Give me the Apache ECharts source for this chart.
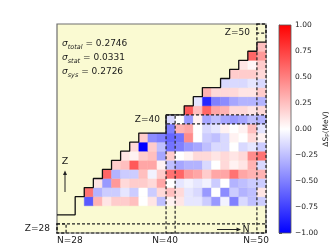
<!DOCTYPE html>
<html><head><meta charset="utf-8">
<script src="https://cdn.jsdelivr.net/npm/echarts@6/dist/echarts.min.js"></script>
<style>html,body{margin:0;padding:0;background:#fff}#c{width:332px;height:249px}</style>
</head><body><div id="c"></div>
<script>
// Neutron numbers of the data columns (index 0 = N=31)
const nValues = [31,32,33,34,35,36,37,38,39,40,41,42,43,44,45,46,47,48,49,50];
// Delta S_p (MeV) per proton number Z, one value per N in nValues (null = no data)
const z31 = [-0.65,0.3,0.1,0.2,0.2,0.25,0.0,0.1,-0.25,0.05,0.1,-0.1,-0.1,-0.2,-0.4,-0.05,-0.5,-0.15,-0.25,-0.2];
const z32 = [0.55,-0.3,-0.2,-0.2,-0.1,-0.2,0.0,-0.2,0.15,0.25,0.15,-0.1,-0.15,-0.4,0.0,-0.45,-0.2,-0.3,-0.25,0.1];
const z33 = [null,0.1,-0.4,0.4,0.15,0.2,0.2,0.15,0.35,0.0,-0.1,-0.05,-0.1,-0.05,-0.2,0.0,-0.3,-0.25,-0.2,-0.2];
const z34 = [null,null,0.6,-0.3,-0.2,-0.2,0.25,-0.05,0.2,0.55,0.6,0.4,0.35,0.2,0.35,0.35,0.55,0.35,0.3,0.3];
const z35 = [null,null,null,0.2,0.25,0.65,0.35,0.35,0.05,-0.25,-0.35,-0.3,-0.3,-0.15,0.0,0.15,0.05,0.1,0.3,-0.15];
const z36 = [null,null,null,null,0.1,0.05,0.2,0.25,-0.35,0.2,0.0,0.05,0.15,0.15,0.1,0.15,0.1,0.15,0.45,0.55];
const z37 = [null,null,null,null,null,0.15,-1.0,0.2,-0.25,-0.55,-0.5,-0.4,-0.35,-0.25,-0.15,-0.15,0.0,-0.15,-0.1,-0.2];
const z38 = [null,null,null,null,null,null,0.2,-0.45,-0.5,-0.6,-0.55,0.45,0.0,-0.2,-0.25,-0.15,0.05,0.0,0.15,0.05];
const z39 = [null,null,null,null,null,null,null,null,null,-0.5,0.3,0.35,0.0,-0.15,-0.1,0.05,0.0,0.05,0.25,-0.1];
const z40 = [null,null,null,null,null,null,null,null,null,-0.15,0.0,-0.4,0.05,-0.35,-0.25,-0.35,-0.4,-0.35,-0.25,-0.3];
const z41 = [null,null,null,null,null,null,null,null,null,null,null,0.65,0.25,0.6,0.35,0.3,0.15,0.15,0.1,0.15];
const z42 = [null,null,null,null,null,null,null,null,null,null,null,null,-0.1,-0.85,-0.5,-0.45,-0.35,-0.3,-0.3,-0.3];
const z43 = [null,null,null,null,null,null,null,null,null,null,null,null,null,0.3,0.15,0.15,0.15,0.1,0.1,0.2];
const z44 = [null,null,null,null,null,null,null,null,null,null,null,null,null,null,null,-0.15,-0.15,-0.15,-0.1,-0.15];
const z45 = [null,null,null,null,null,null,null,null,null,null,null,null,null,null,null,null,0.2,0.2,0.2,0.15];
const z46 = [null,null,null,null,null,null,null,null,null,null,null,null,null,null,null,null,null,0.1,0.03,0.2];
const z47 = [null,null,null,null,null,null,null,null,null,null,null,null,null,null,null,null,null,null,0.6,0.4];
const z48 = [null,null,null,null,null,null,null,null,null,null,null,null,null,null,null,null,null,null,null,0.25];
const zRowValues = [31,32,33,34,35,36,37,38,39,40,41,42,43,44,45,46,47,48];
const zRows = [z31,z32,z33,z34,z35,z36,z37,z38,z39,z40,z41,z42,z43,z44,z45,z46,z47,z48];

// Boundary staircase: highest Z for each N = 28..50
const boundaryN = [28,29,30,31,32,33,34,35,36,37,38,39,40,41,42,43,44,45,46,47,48,49,50];
const boundaryTopZ = [29,29,31,32,33,34,35,36,37,38,38,38,40,40,41,42,43,43,44,45,46,47,48];

// Magic-number dashed boxes: [Nfrom, Nto, Zfrom, Zto]
const magicBoxes = [[28,50,28,28],[40,50,40,40],[50,50,50,50],[28,28,28,28],[40,40,28,40],[50,50,28,50]];

// Colorbar ticks
const cbarMin = -1, cbarMax = 1, cbarStep = 0.25;

const cells = [];
zRows.forEach((row, i) => row.forEach((v, j) => { if (v !== null) cells.push([nValues[j], zRowValues[i], v]); }));
const stair = [];
boundaryN.forEach((n, i) => { stair.push([n - 0.5, boundaryTopZ[i] + 0.5]); stair.push([n + 0.5, boundaryTopZ[i] + 0.5]); });

const FONT = 'DejaVu Sans';
const chart = echarts.init(document.getElementById('c'), null, {renderer: 'canvas'});
const txt = (t, x, y, align, size) => ({type: 'text', z: 20, style: {text: t, x: x, y: y, align: align || 'left', verticalAlign: 'middle', fill: '#1a1a1a', fontSize: size || 9, fontFamily: FONT}});
const sig = (name, val, y) => ({type: 'text', z: 20, style: {text: '{s|σ}{b|' + name + '}{n| = ' + val + '}', x: 62, y: y, verticalAlign: 'middle', fill: '#1a1a1a', fontFamily: FONT,
  rich: {s: {fontStyle: 'italic', fontSize: 9, fontFamily: FONT, lineHeight: 13, verticalAlign: 'middle'}, b: {fontStyle: 'italic', fontSize: 6.5, fontFamily: FONT, lineHeight: 13, verticalAlign: 'bottom'}, n: {fontSize: 9, fontFamily: FONT, lineHeight: 13, verticalAlign: 'middle'}}}});

chart.setOption({
  animation: false,
  grid: [
    {left: 57, top: 24, width: 209, height: 209, show: true, backgroundColor: '#fafad2', borderColor: '#6e6e6e', borderWidth: 1.2},
    {left: 279, top: 25, width: 12, height: 208, show: false}
  ],
  xAxis: [
    {gridIndex: 0, type: 'value', min: 27.5, max: 50.5, show: false},
    {gridIndex: 1, type: 'value', min: 0, max: 1, show: false}
  ],
  yAxis: [
    {gridIndex: 0, type: 'value', min: 27.5, max: 50.5, show: false},
    {gridIndex: 1, type: 'value', min: cbarMin, max: cbarMax, interval: cbarStep, position: 'right',
      axisLine: {show: true, lineStyle: {color: '#555', width: 0.8}},
      axisTick: {show: true, length: 3, lineStyle: {color: '#333', width: 0.8}},
      splitLine: {show: false},
      axisLabel: {fontSize: 7.5, fontFamily: FONT, color: '#1a1a1a', margin: 4, formatter: v => (v < 0 ? '−' : '') + Math.abs(v).toFixed(2)},
      name: 'ΔS{sub|p}(MeV)', nameLocation: 'middle', nameRotate: 90, nameGap: 24,
      nameTextStyle: {fontSize: 7.5, fontFamily: FONT, color: '#1a1a1a', rich: {sub: {fontSize: 5.5, fontFamily: FONT, verticalAlign: 'bottom'}}}}
  ],
  visualMap: {type: 'continuous', show: false, min: cbarMin, max: cbarMax, dimension: 2, seriesIndex: 0, inRange: {color: ['#0000ff', '#ffffff', '#ff0000']}},
  series: [
    {type: 'custom', xAxisIndex: 0, yAxisIndex: 0, z: 2, data: cells,
      renderItem: (params, api) => {
        const a = api.coord([api.value(0) - 0.5, api.value(1) + 0.5]);
        const b = api.coord([api.value(0) + 0.5, api.value(1) - 0.5]);
        const c = api.visual('color');
        return {type: 'rect', shape: {x: a[0], y: a[1], width: b[0] - a[0], height: b[1] - a[1]}, style: {fill: c, stroke: c, lineWidth: 0.4}};
      }},
    {type: 'line', xAxisIndex: 0, yAxisIndex: 0, z: 3, data: stair, symbol: 'none', lineStyle: {color: '#111', width: 1.3}},
    {type: 'custom', xAxisIndex: 0, yAxisIndex: 0, z: 4, data: magicBoxes,
      renderItem: (params, api) => {
        const a = api.coord([api.value(0) - 0.5, api.value(3) + 0.5]);
        const b = api.coord([api.value(1) + 0.5, api.value(2) - 0.5]);
        return {type: 'rect', shape: {x: a[0], y: a[1], width: b[0] - a[0], height: b[1] - a[1]}, style: {fill: 'none', stroke: '#222', lineWidth: 1.2, lineDash: [3, 2]}};
      }},
    {type: 'custom', xAxisIndex: 1, yAxisIndex: 1, z: 2, data: [[0, cbarMin, 1, cbarMax]],
      renderItem: (params, api) => {
        const a = api.coord([api.value(0), api.value(3)]);
        const b = api.coord([api.value(2), api.value(1)]);
        return {type: 'rect', shape: {x: a[0], y: a[1], width: b[0] - a[0], height: b[1] - a[1]},
          style: {stroke: '#555', lineWidth: 0.8, fill: new echarts.graphic.LinearGradient(0, 0, 0, 1, [{offset: 0, color: '#ff0000'}, {offset: 0.5, color: '#ffffff'}, {offset: 1, color: '#0000ff'}])}};
      }}
  ],
  graphic: [
    sig('total', '0.2746', 44),
    sig('stat', '0.0331', 58),
    sig('sys', '0.2726', 72),
    txt('Z=50', 250, 33, 'right'),
    txt('Z=40', 160, 120, 'right'),
    txt('Z=28', 50, 229, 'right'),
    txt('N=28', 57, 241, 'left'),
    txt('N=40', 165, 241, 'center'),
    txt('N=50', 256, 241, 'center'),
    txt('Z', 65, 162, 'center', 9.5),
    txt('N', 246, 229.5, 'center', 9.5),
    {type: 'line', z: 20, shape: {x1: 65, y1: 192, x2: 65, y2: 173}, style: {stroke: '#222', lineWidth: 1}},
    {type: 'polygon', z: 20, shape: {points: [[65, 170.5], [63, 175], [67, 175]]}, style: {fill: '#222'}},
    {type: 'line', z: 20, shape: {x1: 217, y1: 229.5, x2: 238, y2: 229.5}, style: {stroke: '#222', lineWidth: 1}},
    {type: 'polygon', z: 20, shape: {points: [[241, 229.5], [236.5, 227.5], [236.5, 231.5]]}, style: {fill: '#222'}}
  ]
});
</script></body></html>
